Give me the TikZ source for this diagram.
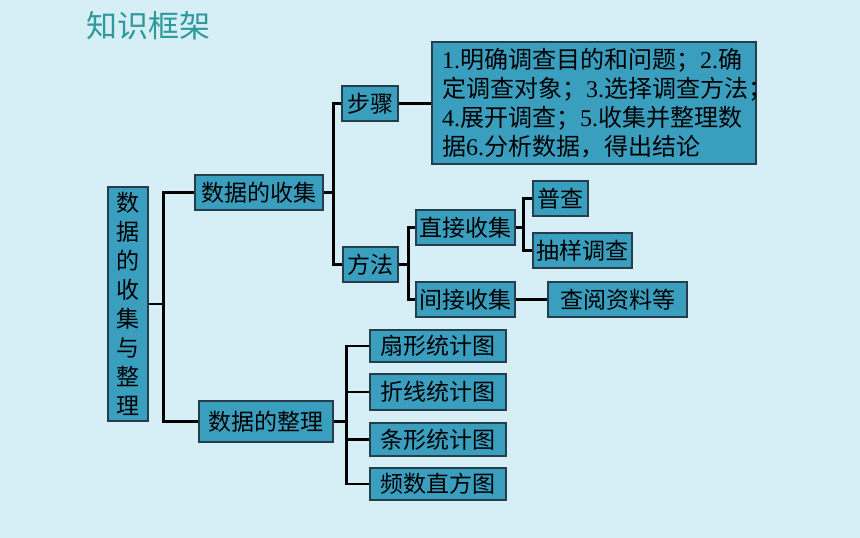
\documentclass[tikz,border=0pt]{standalone}
\usepackage{fontspec}
\setmainfont{Liberation Serif}
\newfontfamily\cjk{Noto Sans CJK SC}
\usepackage{tikz}
\definecolor{bgblue}{RGB}{214,238,246}
\definecolor{boxblue}{RGB}{58,158,190}
\definecolor{boxline}{RGB}{38,62,74}
\definecolor{titleteal}{RGB}{46,154,154}
\newcommand\stepno[1]{{\rmfamily #1}}

\begin{document}
\begin{tikzpicture}[x=1pt, y=-1pt,
    box/.style={draw=boxline, fill=boxblue, line width=1.2pt, inner sep=0pt, minimum height=35pt, font=\cjk\fontsize{23}{29}\selectfont},
    link/.style={line width=2.6pt}]
  \fill [bgblue] (0,0) rectangle (860,538);
  \node [text=titleteal, font=\cjk\fontsize{31}{36}\selectfont] (title) at (148.5,26) {知识框架};

  \node [box, minimum width=40pt, minimum height=234pt, align=center] (root) at (128,304) {数\\据\\的\\收\\集\\与\\整\\理};
  \node [box, minimum width=128pt] (shouji) at (259,192.5) {数据的收集};
  \node [box, minimum width=134pt, minimum height=41pt] (zhengli) at (266,421.5) {数据的整理};

  \node [box, minimum width=56pt] (buzhou) at (370,103.5) {步骤};
  \node [box, minimum width=55pt] (fangfa) at (370.5,264.5) {方法};
  \node [box, minimum width=324pt, minimum height=122pt, text width=304pt, align=left, font=\cjk\fontsize{24}{29}\selectfont] (steps) at (594,103)
    {\stepno{1.}明确调查目的和问题；\stepno{2.}确\\定调查对象；\stepno{3.}选择调查方法；\\\stepno{4.}展开调查；\stepno{5.}收集并整理数\\据\stepno{6.}分析数据，得出结论};

  \node [box, minimum width=99pt] (zhijie) at (465.5,227.5) {直接收集};
  \node [box, minimum width=99pt] (jianjie) at (465.5,299.5) {间接收集};
  \node [box, minimum width=55pt] (pucha) at (560.5,198.5) {普查};
  \node [box, minimum width=99pt] (chouyang) at (582.5,250.5) {抽样调查};
  \node [box, minimum width=139pt] (chayue) at (617.5,299.5) {查阅资料等};

  \node [box, minimum width=136pt, minimum height=32pt] (shan) at (438,346) {扇形统计图};
  \node [box, minimum width=136pt, minimum height=36pt] (zhe) at (438,392) {折线统计图};
  \node [box, minimum width=136pt, minimum height=33pt] (tiao) at (438,439.5) {条形统计图};
  \node [box, minimum width=136pt, minimum height=32pt] (pin) at (438,484) {频数直方图};

  % connectors
  \draw [link] (root.east) -- ++(15,0) |- (shouji.west);
  \draw [link] (root.east) -- ++(15,0) |- (zhengli.west);
  \draw [link] (shouji.east) -- ++(10,0) |- (buzhou.west);
  \draw [link] (shouji.east) -- ++(10,0) |- (fangfa.west);
  \draw [link] (buzhou.east) -- (buzhou.east -| steps.west);
  \draw [link] (fangfa.east) -- ++(10,0) |- (zhijie.west);
  \draw [link] (fangfa.east) -- ++(10,0) |- (jianjie.west);
  \draw [link] (zhijie.east) -- ++(8,0) |- (pucha.west);
  \draw [link] (zhijie.east) -- ++(8,0) |- (chouyang.west);
  \draw [link] (jianjie.east) -- (chayue.west);
  \draw [link] (zhengli.east) -- ++(13,0) |- (shan.west);
  \draw [link] (zhengli.east) -- ++(13,0) |- (zhe.west);
  \draw [link] (zhengli.east) -- ++(13,0) |- (tiao.west);
  \draw [link] (zhengli.east) -- ++(13,0) |- (pin.west);
\end{tikzpicture}
\end{document}
